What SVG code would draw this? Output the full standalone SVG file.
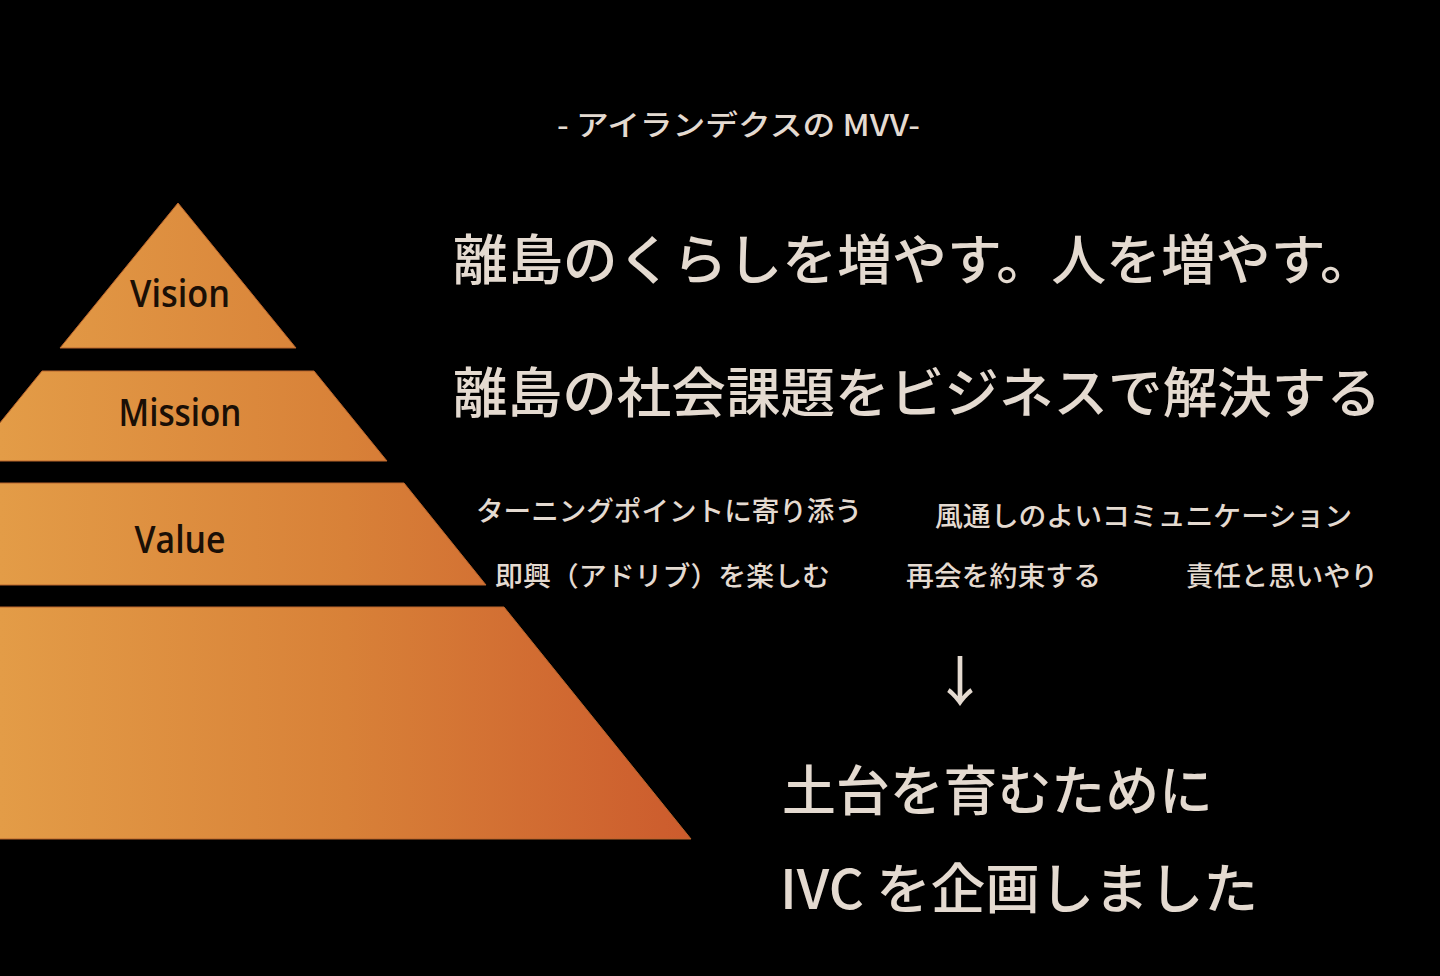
<svg xmlns="http://www.w3.org/2000/svg" width="1440" height="976" viewBox="0 0 1440 976">
  <defs>
    <linearGradient id="orange" gradientUnits="userSpaceOnUse" x1="0" y1="0" x2="692" y2="0">
      <stop offset="0" stop-color="#E39C47"/>
      <stop offset="0.5" stop-color="#D88138"/>
      <stop offset="1" stop-color="#CC5B2D"/>
    </linearGradient>
    <style>
      .tier { fill: url(#orange); stroke: #B8642C; stroke-width: 1; }
      .lbl { font-family: "Open Sans", "Noto Sans", sans-serif; font-size: 37px; font-weight: 600; fill: #1A0F06; text-anchor: middle; }
      .jp { font-family: "Noto Sans CJK JP", "Noto Sans", sans-serif; font-weight: 500; fill: #E4DAD0; }
      .big { font-size: 54px; }
      .mid { font-size: 27px; }
    </style>
  </defs>
  <rect x="0" y="0" width="1440" height="976" fill="#000000"/>

  <g id="pyramid">
    <g id="vision">
      <polygon class="tier" points="178,203 296,348 60,348"/>
      <text class="lbl" x="180" y="307" textLength="100" lengthAdjust="spacingAndGlyphs">Vision</text>
    </g>
    <g id="mission">
      <polygon class="tier" points="42,371 314,371 387,461 -31,461"/>
      <text class="lbl" x="180" y="426" textLength="123" lengthAdjust="spacingAndGlyphs">Mission</text>
    </g>
    <g id="value">
      <polygon class="tier" points="-49,483 404,483 486,585 -131,585"/>
      <text class="lbl" x="180" y="553" textLength="91" lengthAdjust="spacingAndGlyphs">Value</text>
    </g>
    <g id="base">
      <polygon class="tier" points="-148,607 504,607 691,839 -335,839"/>
    </g>
  </g>

  <g id="title">
    <text class="jp" x="557" y="136" font-size="29" font-weight="400" textLength="363" lengthAdjust="spacingAndGlyphs">- アイランデクスの MVV-</text>
  </g>

  <g id="vision-text">
    <text class="jp big" x="453" y="280" textLength="922" lengthAdjust="spacingAndGlyphs">離島のくらしを増やす。人を増やす。</text>
  </g>
  <g id="mission-text">
    <text class="jp big" x="453" y="413" textLength="928" lengthAdjust="spacingAndGlyphs">離島の社会課題をビジネスで解決する</text>
  </g>

  <g id="values">
    <text class="jp mid" x="476" y="521" textLength="386" lengthAdjust="spacingAndGlyphs">ターニングポイントに寄り添う</text>
    <text class="jp mid" x="935" y="526" textLength="417" lengthAdjust="spacingAndGlyphs">風通しのよいコミュニケーション</text>
    <text class="jp mid" x="495" y="586" textLength="335" lengthAdjust="spacingAndGlyphs">即興（アドリブ）を楽しむ</text>
    <text class="jp mid" x="906" y="586" textLength="195" lengthAdjust="spacingAndGlyphs">再会を約束する</text>
    <text class="jp mid" x="1186" y="586" textLength="192" lengthAdjust="spacingAndGlyphs">責任と思いやり</text>
  </g>

  <g id="arrow">
    <text class="jp" x="960" y="702" font-size="54" font-weight="400" text-anchor="middle">↓</text>
  </g>

  <g id="conclusion">
    <text class="jp big" x="782" y="811" textLength="431" lengthAdjust="spacingAndGlyphs">土台を育むために</text>
    <text class="jp big" x="780" y="909" textLength="478" lengthAdjust="spacingAndGlyphs">IVC を企画しました</text>
  </g>
</svg>
